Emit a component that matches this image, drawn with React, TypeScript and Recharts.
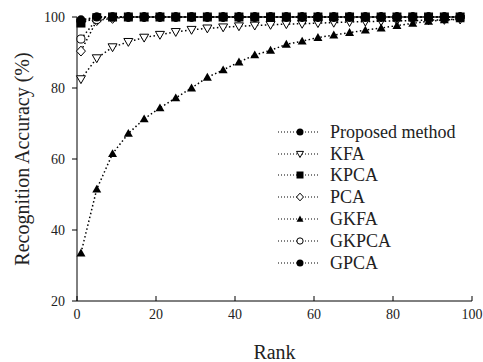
import { Label, Line, LineChart, Legend, XAxis, YAxis } from 'recharts';

const ranks = [1, 5, 9, 13, 17, 21, 25, 29, 33, 37, 41, 45, 49, 53, 57, 61, 65, 69, 73, 77, 81, 85, 89, 93, 97];

const proposed = [99.2, 100, 100, 100, 100, 100, 100, 100, 100, 100, 100, 100, 100, 100, 100, 100, 100, 100, 100, 100, 100, 100, 100, 100, 100];
const kfa = [82.5, 88.4, 91.5, 93, 94.2, 95, 95.8, 96.4, 96.8, 97.1, 97.4, 97.6, 97.8, 98, 98.1, 98.3, 98.4, 98.6, 98.7, 98.8, 98.9, 99, 99.1, 99.2, 99.3];
const kpca = [98.3, 99.8, 100, 100, 100, 100, 100, 100, 100, 100, 100, 100, 100, 100, 100, 100, 100, 100, 100, 100, 100, 100, 100, 100, 100];
const pca = [90.4, 99, 99.6, 100, 100, 100, 100, 100, 100, 100, 100, 100, 100, 100, 100, 100, 100, 100, 100, 100, 100, 100, 100, 100, 100];
const gkfa = [33.5, 51.5, 61.5, 67.2, 71.3, 74.4, 77.2, 80, 83, 85.1, 87.3, 89.3, 90.6, 92.3, 93.2, 94.2, 94.9, 95.6, 96.3, 96.9, 97.6, 98.2, 98.8, 99.2, 99.5];
const gkpca = [93.8, 99.3, 100, 100, 100, 100, 100, 100, 100, 100, 100, 100, 100, 100, 100, 100, 100, 100, 100, 100, 100, 100, 100, 100, 100];
const gpca = [98.8, 100, 100, 100, 100, 100, 100, 100, 100, 100, 100, 100, 100, 100, 100, 100, 100, 100, 100, 100, 100, 100, 100, 100, 100];

const xTicks = [0, 20, 40, 60, 80, 100];
const yTicks = [20, 40, 60, 80, 100];

const series = [
  { key: 'proposed', name: 'Proposed method', shape: 'circle' },
  { key: 'kfa', name: 'KFA', shape: 'triDown' },
  { key: 'kpca', name: 'KPCA', shape: 'square' },
  { key: 'pca', name: 'PCA', shape: 'diamond' },
  { key: 'gkfa', name: 'GKFA', shape: 'triUp' },
  { key: 'gkpca', name: 'GKPCA', shape: 'circleOpen' },
  { key: 'gpca', name: 'GPCA', shape: 'circle' },
];

const data = ranks.map((rank, i) => ({
  rank,
  proposed: proposed[i],
  kfa: kfa[i],
  kpca: kpca[i],
  pca: pca[i],
  gkfa: gkfa[i],
  gkpca: gkpca[i],
  gpca: gpca[i],
}));

const FONT = '"Liberation Serif", "Times New Roman", serif';

function Marker({ shape, cx, cy, s }: { shape: string; cx: number; cy: number; s: number }) {
  if (cx == null || cy == null) return null;
  switch (shape) {
    case 'circle':
      return <circle cx={cx} cy={cy} r={s} fill="#000" />;
    case 'circleOpen':
      return <circle cx={cx} cy={cy} r={s * 0.9} fill="#fff" stroke="#000" strokeWidth={1} />;
    case 'square':
      return <rect x={cx - s} y={cy - s} width={s * 2} height={s * 2} fill="#000" />;
    case 'diamond':
      return (
        <polygon
          points={`${cx},${cy - s * 1.1} ${cx + s},${cy} ${cx},${cy + s * 1.1} ${cx - s},${cy}`}
          fill="#fff"
          stroke="#000"
          strokeWidth={1}
        />
      );
    case 'triUp':
      return (
        <polygon
          points={`${cx},${cy - s} ${cx + s},${cy + s * 0.75} ${cx - s},${cy + s * 0.75}`}
          fill="#000"
        />
      );
    case 'triDown':
      return (
        <polygon
          points={`${cx - s},${cy - s * 0.75} ${cx + s},${cy - s * 0.75} ${cx},${cy + s}`}
          fill="#fff"
          stroke="#000"
          strokeWidth={1}
        />
      );
    default:
      return null;
  }
}

function LegendBox() {
  return (
    <div style={{ fontFamily: FONT, fontSize: 18, color: '#222' }}>
      {series.map((s) => (
        <div key={s.key} style={{ display: 'flex', alignItems: 'center', height: 21.8 }}>
          <svg width={40} height={20} style={{ display: 'block' }}>
            <line x1={0} y1={10} x2={40} y2={10} stroke="#000" strokeWidth={1.2} strokeDasharray="1 2" />
            <Marker shape={s.shape} cx={22} cy={10} s={3.5} />
          </svg>
          <span style={{ marginLeft: 12, lineHeight: 1 }}>{s.name}</span>
        </div>
      ))}
    </div>
  );
}

export default function App() {
  return (
    <div style={{ position: 'absolute', left: 0, top: 0, background: '#fff' }}>
      <LineChart width={483} height={362} data={data} margin={{ top: 17, right: 11, left: 0, bottom: 0 }}>
        <XAxis
          dataKey="rank"
          type="number"
          domain={[0, 100]}
          ticks={xTicks}
          height={61}
          stroke="#000"
          tickSize={-5}
          tickMargin={13}
          tick={{ fill: '#222', fontSize: 14, fontFamily: FONT }}
        >
          <Label
            value="Rank"
            position="insideBottom"
            offset={3}
            style={{ fill: '#222', fontSize: 20, fontFamily: FONT }}
          />
        </XAxis>
        <YAxis
          type="number"
          domain={[20, 100]}
          ticks={yTicks}
          width={77}
          stroke="#000"
          tickSize={5}
          tickMargin={7}
          tick={{ fill: '#222', fontSize: 14, fontFamily: FONT }}
        >
          <Label
            value="Recognition Accuracy (%)"
            angle={-90}
            position="insideLeft"
            offset={22}
            style={{ textAnchor: 'middle', fill: '#222', fontSize: 20, fontFamily: FONT }}
          />
        </YAxis>
        <Legend
          layout="vertical"
          align="center"
          verticalAlign="middle"
          content={() => <LegendBox />}
          wrapperStyle={{ left: 278, top: 121, width: 200 }}
        />
        {series.map((s) => (
          <Line
            key={s.key}
            dataKey={s.key}
            name={s.name}
            stroke="#000"
            strokeWidth={1.5}
            strokeDasharray="1.5 2.5"
            isAnimationActive={false}
            dot={(p: any) => (
              <Marker key={`${s.key}-${p.index}`} shape={s.shape} cx={p.cx} cy={p.cy} s={4.5} />
            )}
            activeDot={false}
          />
        ))}
      </LineChart>
    </div>
  );
}
